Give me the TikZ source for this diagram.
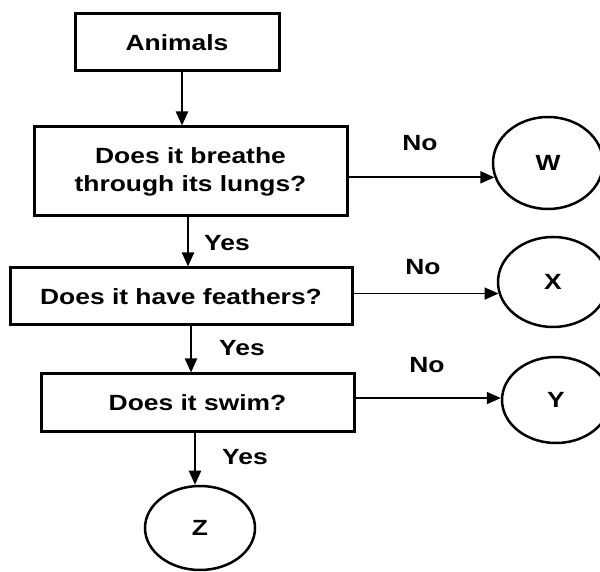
\documentclass[tikz,border=0pt]{standalone}
\usepackage{fontspec}
\setmainfont{Liberation Sans}
\usetikzlibrary{arrows.meta,shapes.geometric}
\newcommand\sx[1]{\scalebox{1.2}[1]{#1}}
\tikzset{
  txt/.style={font=\fontsize{22}{28}\selectfont\bfseries},
  box/.style={txt,draw,line width=3pt,rectangle,inner sep=0pt,align=center},
  oval/.style={txt,draw,line width=2.5pt,ellipse,inner sep=0pt},
  arr/.style={line width=2.2pt,-{Triangle[length=14pt,width=12pt]}},
  harr/.style={line width=1.8pt,-{Triangle[length=14pt,width=12pt]}},
  lbl/.style={txt}
}
\begin{document}
\begin{tikzpicture}[x=1pt,y=1pt]
\useasboundingbox (0,0) rectangle (600,572);
\node[box,minimum width=204pt,minimum height=57pt] (b1) at (177,529.5) {\sx{Animals}};
\node[box,minimum width=313pt,minimum height=89pt] (b2) at (190.5,400.5) {\sx{Does it breathe}\\\sx{through its lungs?}};
\node[box,minimum width=342pt,minimum height=57pt] (b3) at (181,275.5) {\sx{Does it have feathers?}};
\node[box,minimum width=313pt,minimum height=58pt] (b4) at (197.5,169) {\sx{Does it swim?}};
\node[oval,minimum width=110pt,minimum height=92pt] (W) at (548,409) {\sx{W}};
\node[oval,minimum width=110pt,minimum height=90pt] (X) at (553,290) {\sx{X}};
\node[oval,minimum width=108pt,minimum height=86pt] (Y) at (556,172) {\sx{Y}};
\node[oval,minimum width=110pt,minimum height=84pt] (Z) at (200,44) {\sx{Z}};
\draw[arr] ([xshift=5pt]b1.south) -- ([xshift=5pt]b1.south |- b2.north);
\draw[arr] ([xshift=-2.5pt]b2.south) -- ([xshift=-2.5pt]b2.south |- b3.north);
\draw[arr] ([xshift=10pt]b3.south) -- ([xshift=10pt]b3.south |- b4.north);
\draw[arr] ([xshift=-2.5pt]b4.south) -- ([xshift=-2.5pt]b4.south |- Z.north);
\draw[harr] (W.195 -| b2.east) -- (W.195);
\draw[harr] (X.192 -| b3.east) -- (X.192);
\draw[harr] (Y.178 -| b4.east) -- (Y.178);
\node[lbl] (n1) at (420,429) {\sx{No}};
\node[lbl] (n2) at (423,305) {\sx{No}};
\node[lbl] (n3) at (427,207) {\sx{No}};
\node[lbl] (y1) at (227,329) {\sx{Yes}};
\node[lbl] (y2) at (242,224) {\sx{Yes}};
\node[lbl] (y3) at (245,115) {\sx{Yes}};
\end{tikzpicture}
\end{document}
